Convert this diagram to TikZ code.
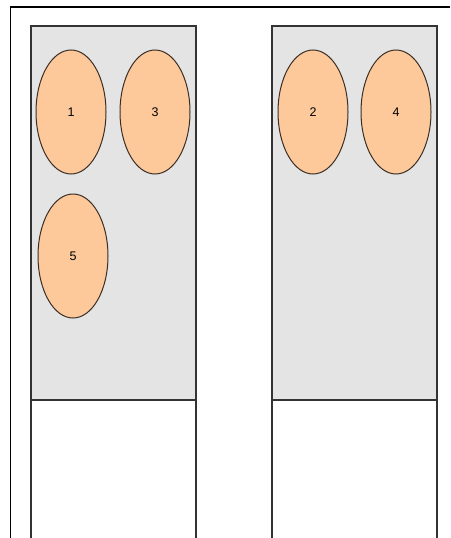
\documentclass[tikz,border=0pt]{standalone}
\usepackage{fontspec}
\setmainfont{Liberation Sans}
\usetikzlibrary{shapes.geometric}
\definecolor{slotgray}{HTML}{E4E4E4}
\definecolor{peach}{HTML}{FDC99B}
\definecolor{rim}{HTML}{3A2E24}
\tikzset{
  column/.style={draw=black!80, line width=1.1pt, fill=slotgray, minimum width=165pt, minimum height=374pt, inner sep=0pt},
  foot/.style={draw=black!80, line width=1.1pt, fill=white, minimum width=165pt, minimum height=150pt, inner sep=0pt},
  token/.style={ellipse, draw=rim, line width=1pt, fill=peach, minimum width=70pt, minimum height=124pt, inner sep=0pt, font=\fontsize{12.5}{14}\selectfont}
}
\begin{document}
\begin{tikzpicture}[x=1pt,y=-1pt]
\useasboundingbox (0,0) rectangle (450,538);
\clip (0,0) rectangle (450,538);
\fill[white] (0,0) rectangle (450,538);
\draw[line width=1.2pt] (450,7) -- (10.5,7) -- (10.5,538);
% left column
\node[column] (lcol) at (113.5,213) {};
\node[foot] (lfoot) at (113.5,475) {};
% right column
\node[column] (rcol) at (354.5,213) {};
\node[foot] (rfoot) at (354.5,475) {};
% tokens
\node[token] (t1) at (71,112) {1};
\node[token] (t3) at (155,112) {3};
\node[token] (t5) at (73,256) {5};
\node[token] (t2) at (313,112) {2};
\node[token] (t4) at (396,112) {4};
\end{tikzpicture}
\end{document}
